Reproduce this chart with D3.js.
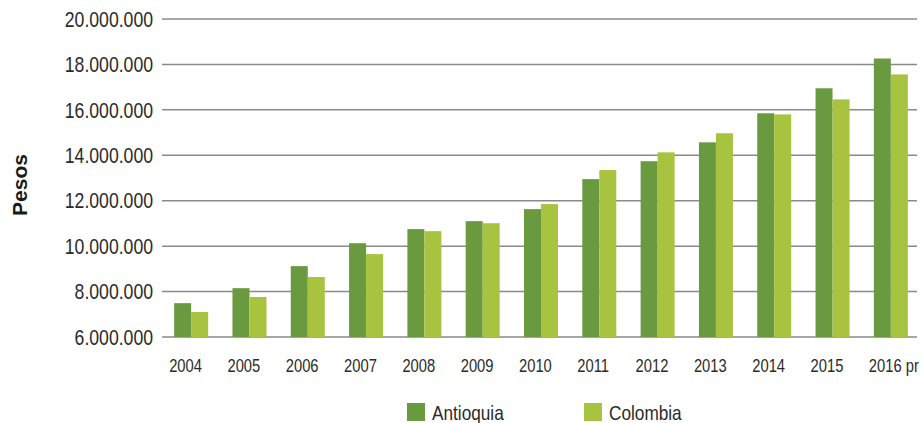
<!DOCTYPE html>
<html>
<head>
<meta charset="utf-8">
<script src="https://cdn.jsdelivr.net/npm/d3@7"></script>
<style>
  html, body { margin: 0; padding: 0; background: #fff; }
  svg { display: block; }
  .narrow { font-family: "Liberation Sans", Arial, sans-serif; }
</style>
</head>
<body>
<svg id="chart" width="921" height="423"></svg>
<script>
const categories = ["2004","2005","2006","2007","2008","2009","2010","2011","2012","2013","2014","2015","2016 pr"];
const seriesNames = ["Antioquia", "Colombia"];
const antioquia = [7490000, 8150000, 9120000, 10130000, 10750000, 11100000, 11630000, 12950000, 13740000, 14570000, 15850000, 16950000, 18260000];
const colombia  = [7100000, 7760000, 8640000, 9650000, 10660000, 11010000, 11850000, 13350000, 14130000, 14970000, 15800000, 16460000, 17560000];
const yTicks = [6000000, 8000000, 10000000, 12000000, 14000000, 16000000, 18000000, 20000000];
const colors = ["#699a3f", "#a7c33f"];
const yTitle = "Pesos";

const svg = d3.select("#chart");
const values = [antioquia, colombia];
const SX = 0.82; // horizontal compression to imitate a narrow face

const x0 = d3.scaleBand().domain(categories).range([162, 920]).paddingInner(0.417).paddingOuter(0.2085);
const x1 = d3.scaleBand().domain(seriesNames).range([0, x0.bandwidth()]).padding(0);
const y = d3.scaleLinear().domain([6000000, 20000000]).range([337, 19]);

const fmt = v => d3.format(",")(v).replace(/,/g, ".");

// gridlines
svg.append("g").selectAll("line").data(yTicks).join("line")
  .attr("x1", 162).attr("x2", 917)
  .attr("y1", d => y(d)).attr("y2", d => y(d))
  .attr("stroke", "#8a8a8a").attr("stroke-width", 1.5);

// y labels
svg.append("g").selectAll("text").data(yTicks).join("text")
  .attr("class", "narrow")
  .attr("transform", d => `translate(153,${y(d)}) scale(${SX},1)`)
  .attr("dy", "0.36em")
  .attr("text-anchor", "end")
  .attr("font-size", 21.5).attr("fill", "#2b2b2b")
  .text(fmt);

// bars
const groups = svg.append("g").selectAll("g").data(categories).join("g")
  .attr("transform", d => `translate(${x0(d)},0)`);
groups.selectAll("rect").data((d, i) => seriesNames.map((s, k) => ({s, v: values[k][i], k})))
  .join("rect")
  .attr("x", d => x1(d.s)).attr("width", x1.bandwidth())
  .attr("y", d => y(d.v)).attr("height", d => y(6000000) - y(d.v))
  .attr("fill", d => colors[d.k]);

// x labels
svg.append("g").selectAll("text").data(categories).join("text")
  .attr("class", "narrow")
  .attr("transform", d => `translate(${x0(d) + x0.bandwidth() / 2 - 22},372) scale(${SX},1)`)
  .attr("text-anchor", "start")
  .attr("font-size", 18).attr("fill", "#2b2b2b")
  .text(d => d);

// y title
svg.append("text")
  .attr("transform", "translate(27,185) rotate(-90)")
  .attr("text-anchor", "middle")
  .attr("font-family", "Liberation Sans, Arial, sans-serif")
  .attr("font-weight", "bold")
  .attr("font-size", 21).attr("fill", "#1a1a1a")
  .text(yTitle);

// legend
const legendX = [407, 584];
const leg = svg.append("g").selectAll("g").data(seriesNames).join("g")
  .attr("transform", (d, i) => `translate(${legendX[i]},403)`);
leg.append("rect").attr("width", 18).attr("height", 18).attr("fill", (d, i) => colors[i]);
leg.append("text").attr("class", "narrow")
  .attr("transform", `translate(25,17) scale(${SX},1)`)
  .attr("font-size", 21).attr("fill", "#2b2b2b")
  .text(d => d);
</script>
</body>
</html>
